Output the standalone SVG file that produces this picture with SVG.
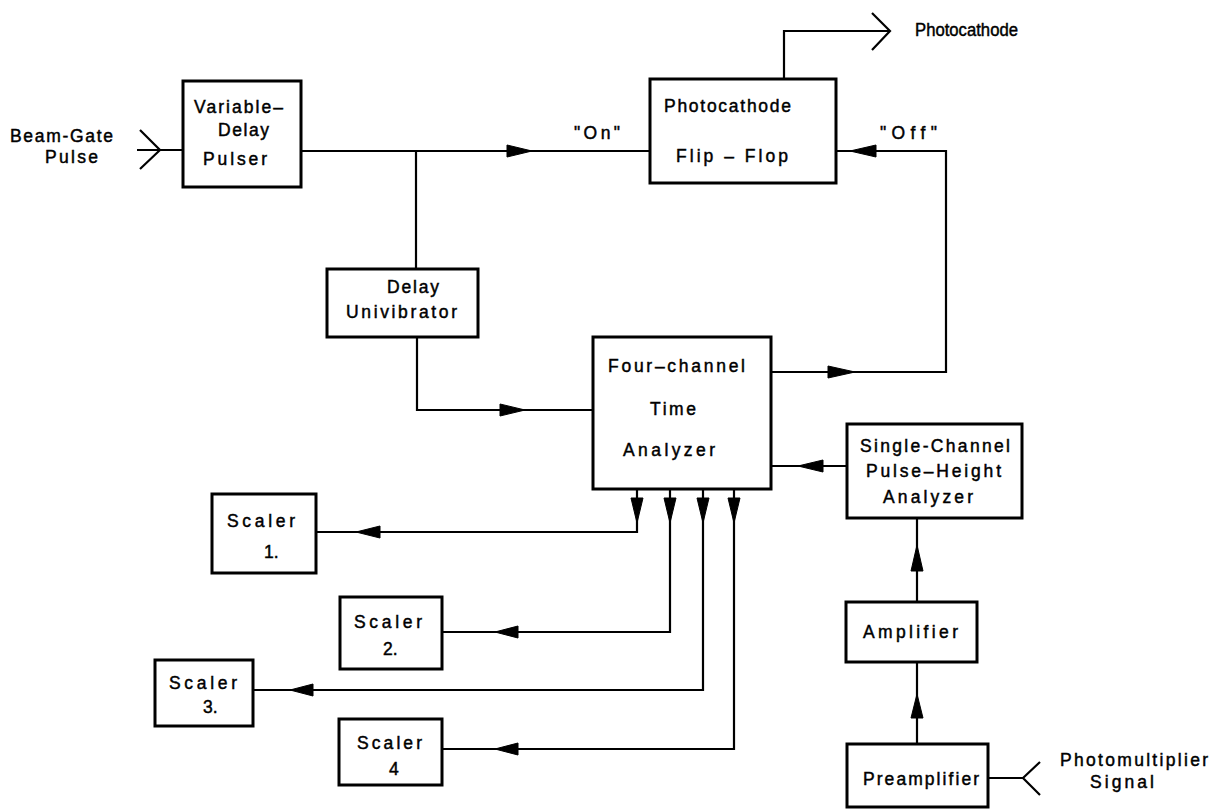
<svg xmlns="http://www.w3.org/2000/svg" width="1211" height="809" viewBox="0 0 1211 809">
<style>
.box{fill:#fff;stroke:#000;stroke-width:3}
.ln{fill:none;stroke:#000;stroke-width:2.2;stroke-linejoin:miter}
.ah{fill:#000;stroke:#000;stroke-width:1}
text{font-family:"Liberation Sans","DejaVu Sans",sans-serif;font-size:17.5px;fill:#000;stroke:#000;stroke-width:0.45}
</style>
<rect width="1211" height="809" fill="#fff"/>
<g id="connectors">
<path class="ln" d="M137,150 H183 M140,130 L160,150 L140,169"/>
<path class="ln" d="M301,151 H650"/>
<polygon class="ah" points="507,145 532,151 507,157"/>
<path class="ln" d="M416,151 V269"/>
<path class="ln" d="M417,337 V410 H593"/>
<polygon class="ah" points="500,404 525,410 500,416"/>
<path class="ln" d="M784,79 V31 H890 M872,13 L890,31 L872,50"/>
<path class="ln" d="M771,372 H946 V151 H836"/>
<polygon class="ah" points="828,366 855,372 828,378"/>
<polygon class="ah" points="876,145 850,151 876,157"/>
<path class="ln" d="M847,466 H771"/>
<polygon class="ah" points="823,460 798,466 823,472"/>
<path class="ln" d="M917,602 V518"/>
<polygon class="ah" points="911,571 917,545 923,571"/>
<path class="ln" d="M917,744 V662"/>
<polygon class="ah" points="911,718 917,694 923,718"/>
<path class="ln" d="M988,778 H1023 M1040,762 L1023,778 L1040,795"/>
<path class="ln" d="M637,489 V532 H316"/>
<polygon class="ah" points="631,498 637,523 643,498"/>
<polygon class="ah" points="380,526 356,532 380,538"/>
<path class="ln" d="M670,489 V632 H442"/>
<polygon class="ah" points="664,498 670,523 676,498"/>
<polygon class="ah" points="518,626 495,632 518,638"/>
<path class="ln" d="M703,489 V690 H253"/>
<polygon class="ah" points="697,498 703,523 709,498"/>
<polygon class="ah" points="313,684 290,690 313,696"/>
<path class="ln" d="M734,489 V749 H442"/>
<polygon class="ah" points="728,498 734,523 740,498"/>
<polygon class="ah" points="518,743 495,749 518,755"/>
</g>
<g id="beam-gate-label">
<text x="10" y="142" textLength="103" lengthAdjust="spacing">Beam-Gate</text>
<text x="45" y="163" textLength="53" lengthAdjust="spacing">Pulse</text>
</g>
<g id="variable-delay-pulser">
<rect class="box" x="183" y="81" width="118" height="106"/>
<text x="194" y="113" textLength="89" lengthAdjust="spacing">Variable–</text>
<text x="218" y="136" textLength="51" lengthAdjust="spacing">Delay</text>
<text x="203" y="165" textLength="64" lengthAdjust="spacing">Pulser</text>
</g>
<g id="photocathode-flip-flop">
<rect class="box" x="650" y="79" width="186" height="104"/>
<text x="664" y="112" textLength="127" lengthAdjust="spacing">Photocathode</text>
<text x="676" y="162" textLength="112" lengthAdjust="spacing">Flip – Flop</text>
</g>
<g id="labels-on-off">
<text x="574" y="139" textLength="46" lengthAdjust="spacing">"On"</text>
<text x="880" y="139" textLength="57" lengthAdjust="spacing">"Off"</text>
</g>
<g id="photocathode-output">
<text x="915" y="36" textLength="103" lengthAdjust="spacingAndGlyphs">Photocathode</text>
</g>
<g id="delay-univibrator">
<rect class="box" x="327" y="269" width="151" height="68"/>
<text x="387" y="293" textLength="52" lengthAdjust="spacing">Delay</text>
<text x="346" y="318" textLength="111" lengthAdjust="spacing">Univibrator</text>
</g>
<g id="four-channel-time-analyzer">
<rect class="box" x="593" y="337" width="178" height="152"/>
<text x="608" y="372" textLength="137" lengthAdjust="spacing">Four–channel</text>
<text x="650" y="415" textLength="46" lengthAdjust="spacing">Time</text>
<text x="623" y="456" textLength="92" lengthAdjust="spacing">Analyzer</text>
</g>
<g id="single-channel-analyzer">
<rect class="box" x="847" y="424" width="175" height="94"/>
<text x="860" y="452" textLength="150" lengthAdjust="spacing">Single-Channel</text>
<text x="866" y="477" textLength="135" lengthAdjust="spacing">Pulse–Height</text>
<text x="883" y="503" textLength="90" lengthAdjust="spacing">Analyzer</text>
</g>
<g id="amplifier">
<rect class="box" x="846" y="602" width="131" height="60"/>
<text x="863" y="638" textLength="95" lengthAdjust="spacing">Amplifier</text>
</g>
<g id="preamplifier">
<rect class="box" x="847" y="744" width="141" height="63"/>
<text x="863" y="785" textLength="116" lengthAdjust="spacing">Preamplifier</text>
</g>
<g id="photomultiplier-label">
<text x="1060" y="766" textLength="148" lengthAdjust="spacing">Photomultiplier</text>
<text x="1090" y="788" textLength="64" lengthAdjust="spacing">Signal</text>
</g>
<g id="scaler-1">
<rect class="box" x="212" y="494" width="104" height="79"/>
<text x="227" y="527" textLength="68" lengthAdjust="spacing">Scaler</text>
<text x="264" y="558">1.</text>
</g>
<g id="scaler-2">
<rect class="box" x="340" y="597" width="102" height="72"/>
<text x="354" y="628" textLength="68" lengthAdjust="spacing">Scaler</text>
<text x="383" y="655">2.</text>
</g>
<g id="scaler-3">
<rect class="box" x="155" y="660" width="98" height="66"/>
<text x="169" y="689" textLength="68" lengthAdjust="spacing">Scaler</text>
<text x="203" y="713">3.</text>
</g>
<g id="scaler-4">
<rect class="box" x="339" y="719" width="103" height="66"/>
<text x="357" y="749" textLength="65" lengthAdjust="spacing">Scaler</text>
<text x="389" y="775">4</text>
</g>
</svg>
